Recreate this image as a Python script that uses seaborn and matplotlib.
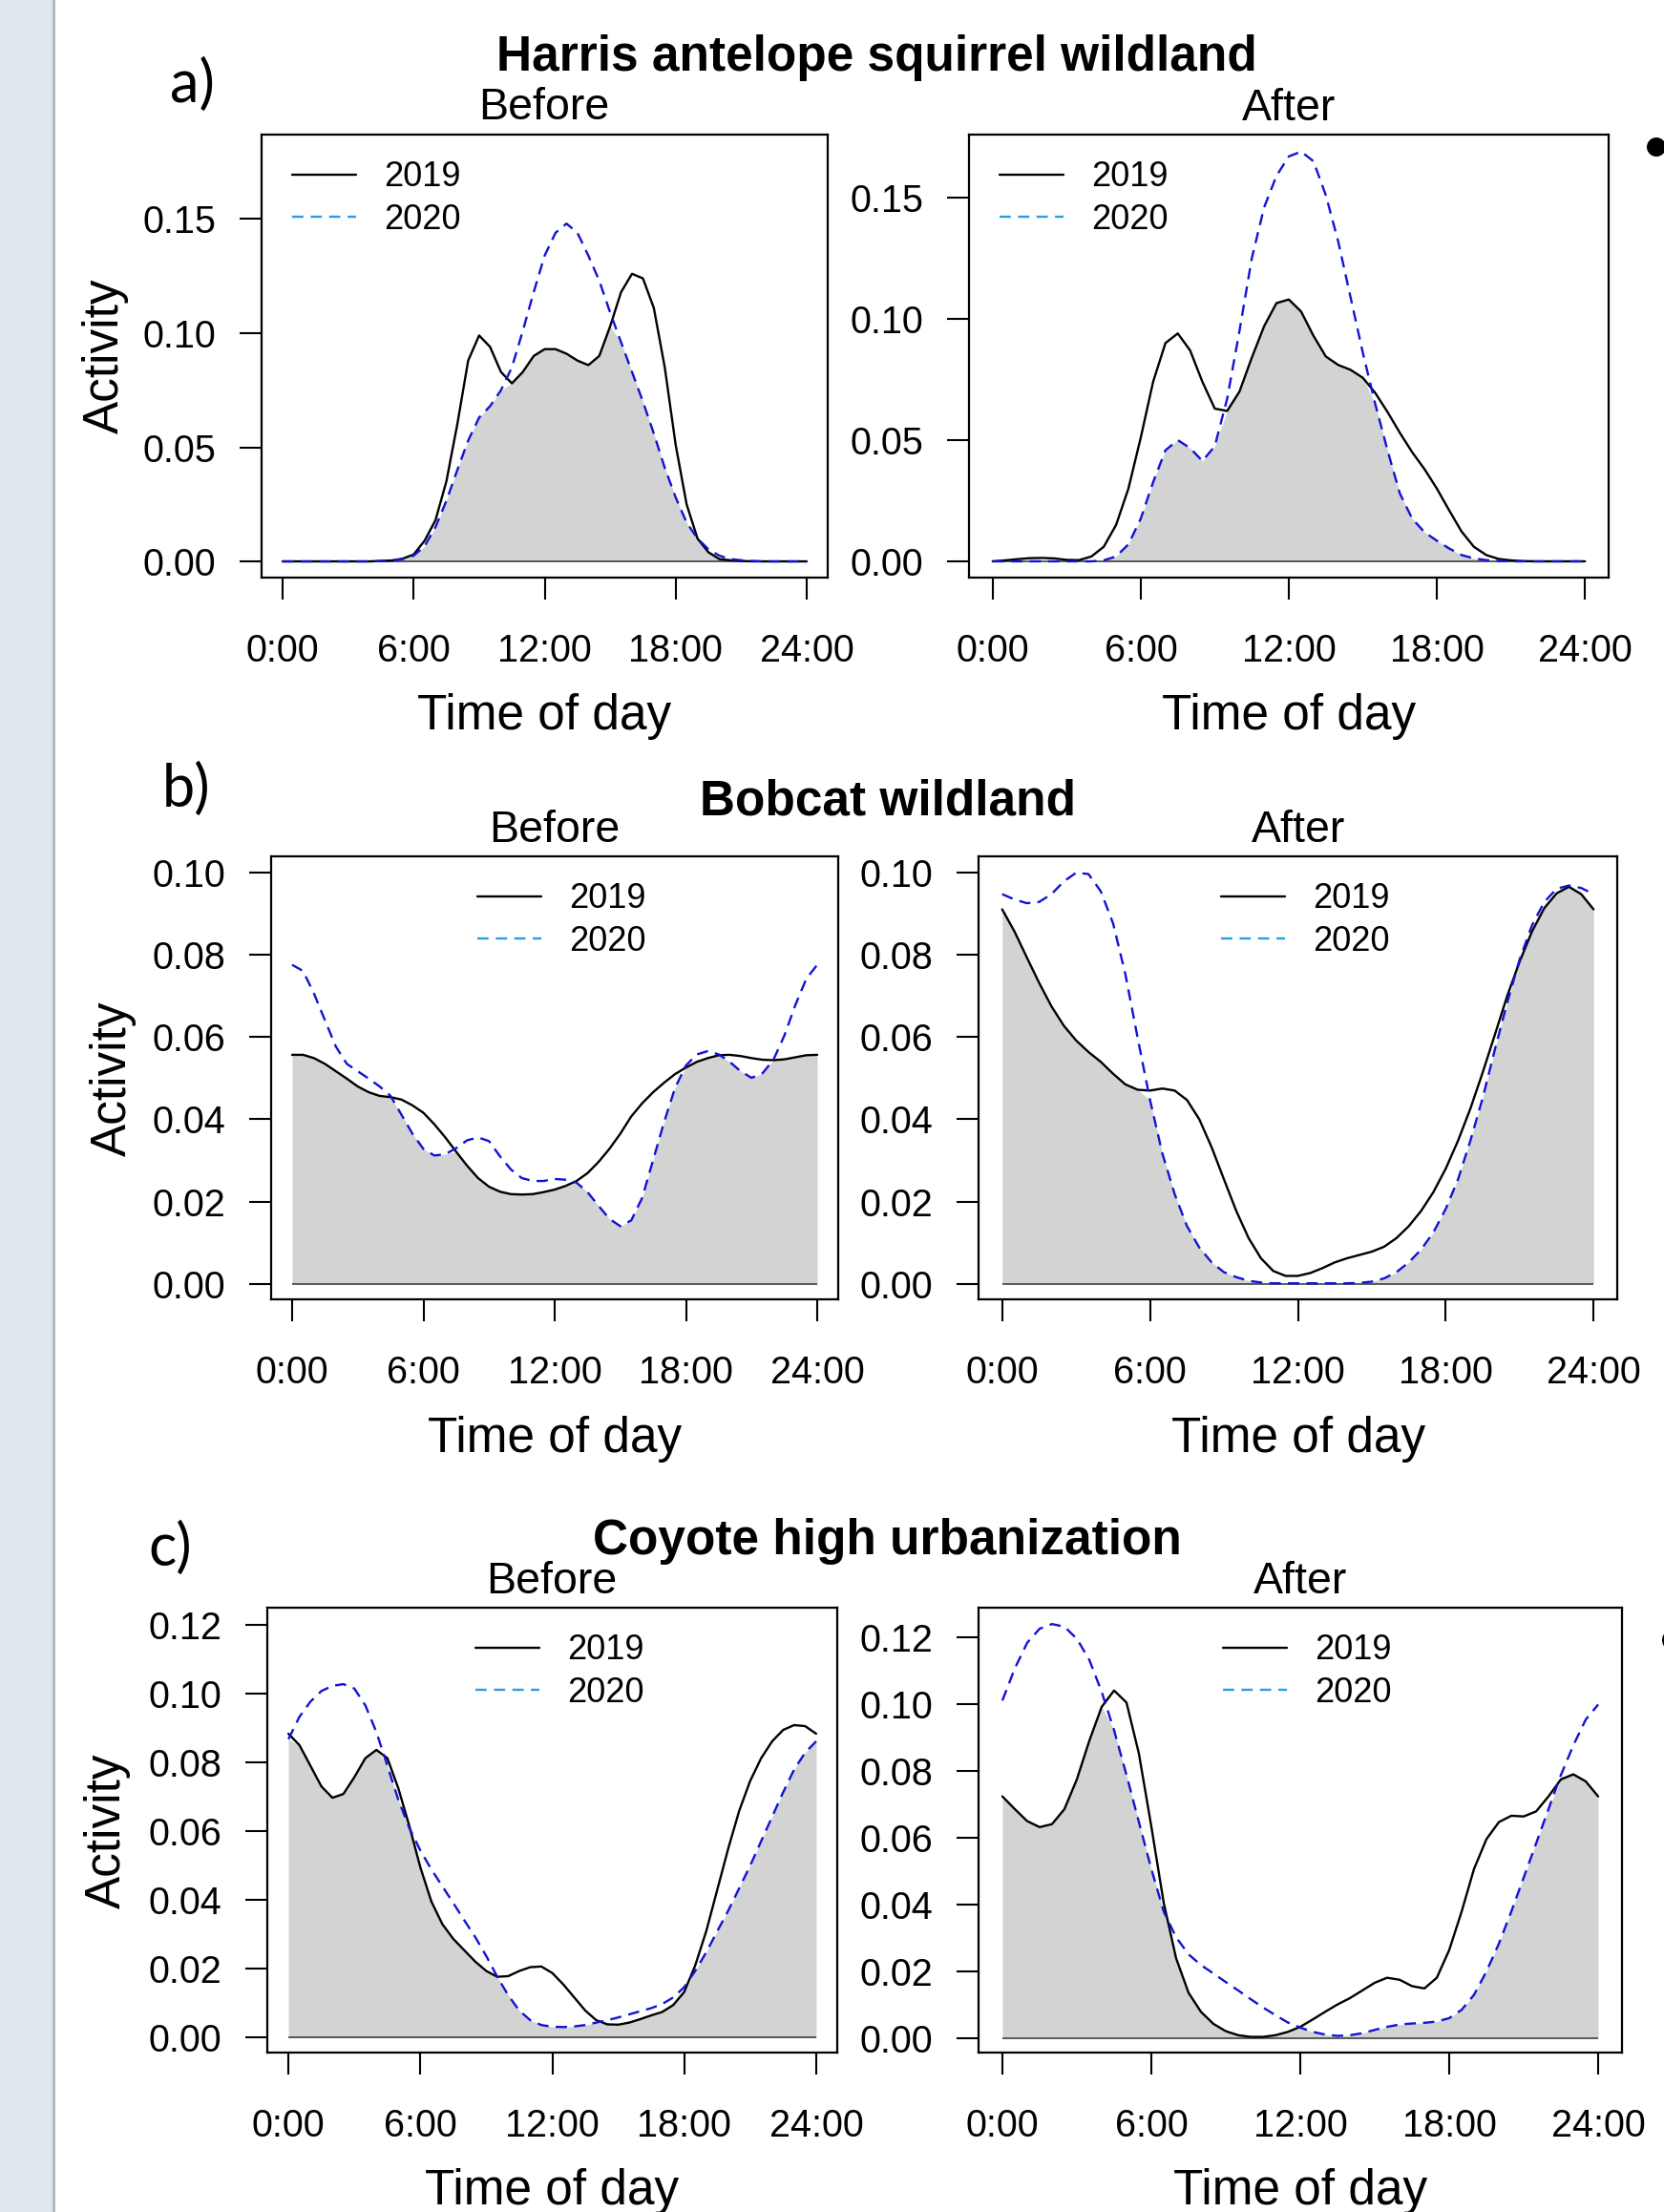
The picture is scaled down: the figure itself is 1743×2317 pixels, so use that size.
import numpy as np
import seaborn as sns
import matplotlib.pyplot as plt
from matplotlib.lines import Line2D
from matplotlib.patches import Rectangle, Ellipse

# time of day grid (hours), values every half hour
hours = np.arange(0, 24.5, 0.5)
tick_hours = [0, 6, 12, 18, 24]
tick_names = ['0:00', '6:00', '12:00', '18:00', '24:00']
years = ['2019', '2020']

# a) Harris antelope squirrel wildland
squirrel_before_2019 = [0, 0, 0, 0, 0, 0, 0, 0, 0, 0.0002, 0.0004, 0.0012, 0.003, 0.009, 0.018, 0.035,
                        0.060, 0.088, 0.099, 0.094, 0.083, 0.078, 0.083, 0.090, 0.093, 0.093, 0.091, 0.088,
                        0.086, 0.090, 0.103, 0.118, 0.126, 0.124, 0.111, 0.085, 0.051, 0.025, 0.010, 0.004,
                        0.001, 0.0005, 0.0002, 0, 0, 0, 0, 0, 0]
squirrel_before_2020 = [0, 0, 0, 0, 0, 0, 0, 0, 0, 0.0001, 0.0003, 0.001, 0.0025, 0.0066, 0.015, 0.0265,
                        0.040, 0.053, 0.063, 0.068, 0.075, 0.085, 0.101, 0.118, 0.134, 0.144, 0.148, 0.144,
                        0.134, 0.123, 0.109, 0.096, 0.083, 0.070, 0.056, 0.041, 0.028, 0.017, 0.010, 0.0053,
                        0.0025, 0.001, 0.0005, 0.0002, 0, 0, 0, 0, 0]
squirrel_after_2019 = [0, 0.0004, 0.0009, 0.0013, 0.0014, 0.0012, 0.0006, 0.0005, 0.002, 0.006, 0.015, 0.030,
                       0.051, 0.074, 0.090, 0.094, 0.087, 0.074, 0.063, 0.062, 0.070, 0.084, 0.097, 0.1065,
                       0.108, 0.103, 0.093, 0.0845, 0.081, 0.079, 0.0757, 0.0695, 0.0616, 0.053, 0.045, 0.038,
                       0.030, 0.021, 0.0123, 0.006, 0.0026, 0.001, 0.0004, 0.0001, 0, 0, 0, 0, 0]
squirrel_after_2020 = [0, 0, 0, 0, 0, 0, 0, 0, 0, 0.0004, 0.002, 0.007, 0.0176, 0.0326, 0.0458, 0.050,
                       0.0467, 0.0414, 0.0475, 0.067, 0.095, 0.125, 0.146, 0.159, 0.167, 0.169, 0.165, 0.151,
                       0.132, 0.109, 0.086, 0.065, 0.0458, 0.028, 0.0176, 0.012, 0.0085, 0.0053, 0.0026, 0.0012,
                       0.0005, 0.0002, 0, 0, 0, 0, 0, 0, 0]

# b) Bobcat wildland
bobcat_before_2019 = [0.0557, 0.0557, 0.0549, 0.0535, 0.0517, 0.0499, 0.048, 0.0466, 0.0457, 0.0454, 0.0448,
                      0.0434, 0.0416, 0.0388, 0.0356, 0.0321, 0.0287, 0.0257, 0.0236, 0.0224, 0.0218, 0.0217,
                      0.0218, 0.0223, 0.0229, 0.0238, 0.025, 0.0269, 0.0296, 0.0328, 0.0365, 0.0407, 0.0439,
                      0.0466, 0.0489, 0.051, 0.0526, 0.054, 0.0549, 0.0556, 0.0557, 0.0554, 0.0549, 0.0545,
                      0.0544, 0.0546, 0.0551, 0.0556, 0.0557]
bobcat_before_2020 = [0.0776, 0.0761, 0.0706, 0.0641, 0.0577, 0.0535, 0.0517, 0.0499, 0.048, 0.0457, 0.0411,
                      0.0365, 0.0328, 0.0312, 0.0315, 0.033, 0.0349, 0.0356, 0.0347, 0.031, 0.0278, 0.0257,
                      0.025, 0.025, 0.0255, 0.0253, 0.0246, 0.0223, 0.019, 0.0158, 0.014, 0.0154, 0.0209,
                      0.0301, 0.0393, 0.0476, 0.0531, 0.0558, 0.0566, 0.0558, 0.054, 0.0517, 0.0501, 0.0512,
                      0.0545, 0.0604, 0.0678, 0.0742, 0.0776]
bobcat_after_2019 = [0.0911, 0.0857, 0.0794, 0.0732, 0.0675, 0.0628, 0.0592, 0.0564, 0.054, 0.0511, 0.0485,
                     0.0472, 0.047, 0.0475, 0.047, 0.0447, 0.040, 0.0332, 0.0254, 0.0177, 0.0111, 0.0062,
                     0.0031, 0.0019, 0.0019, 0.0026, 0.0038, 0.0052, 0.0062, 0.007, 0.0078, 0.009, 0.0111,
                     0.014, 0.0177, 0.0223, 0.028, 0.0348, 0.0426, 0.0514, 0.0607, 0.0701, 0.0784, 0.0857,
                     0.0914, 0.095, 0.0966, 0.0948, 0.0911]
bobcat_after_2020 = [0.0948, 0.0935, 0.0926, 0.0929, 0.0948, 0.0979, 0.100, 0.0997, 0.0955, 0.0877, 0.0753,
                     0.0597, 0.0447, 0.0317, 0.0218, 0.014, 0.0088, 0.0052, 0.0028, 0.0016, 0.0007, 0.0003,
                     0.0001, 0.0001, 0.0001, 0.0001, 0.0001, 0.0001, 0.0001, 0.0002, 0.0005, 0.0013, 0.0028,
                     0.0052, 0.0083, 0.0125, 0.0182, 0.0254, 0.0348, 0.0452, 0.0571, 0.0685, 0.0789, 0.0872,
                     0.0929, 0.0961, 0.0969, 0.0963, 0.0948]

# c) Coyote high urbanization
coyote_before_2019 = [0.0883, 0.085, 0.079, 0.073, 0.0697, 0.0708, 0.0757, 0.0812, 0.0836, 0.0812, 0.0724,
                      0.0615, 0.0495, 0.0396, 0.033, 0.0287, 0.0254, 0.0221, 0.0194, 0.0177, 0.0179, 0.0194,
                      0.0205, 0.0207, 0.0188, 0.0155, 0.0117, 0.0079, 0.0051, 0.0039, 0.0038, 0.0044, 0.0054,
                      0.0065, 0.0075, 0.0095, 0.0133, 0.021, 0.0309, 0.0429, 0.0549, 0.0659, 0.0746, 0.0812,
                      0.0861, 0.0894, 0.0908, 0.0905, 0.0883]
coyote_before_2020 = [0.0867, 0.0932, 0.0976, 0.1007, 0.1022, 0.1027, 0.1014, 0.0965, 0.0888, 0.079, 0.0691,
                      0.0609, 0.0544, 0.0489, 0.044, 0.0391, 0.0341, 0.0292, 0.0237, 0.0177, 0.0123, 0.0079,
                      0.0051, 0.0037, 0.0032, 0.0031, 0.0033, 0.0037, 0.0044, 0.0051, 0.0059, 0.0068, 0.0077,
                      0.0086, 0.0098, 0.0117, 0.0147, 0.0194, 0.0248, 0.0309, 0.0369, 0.0434, 0.050, 0.0571,
                      0.0642, 0.0713, 0.0779, 0.0828, 0.0861]
coyote_after_2019 = [0.0723, 0.0685, 0.0649, 0.0631, 0.064, 0.0685, 0.0774, 0.0889, 0.0991, 0.104, 0.1004,
                     0.0851, 0.0633, 0.0404, 0.0238, 0.0135, 0.0078, 0.0042, 0.002, 0.0008, 0.0003, 0.0003,
                     0.0008, 0.0018, 0.0033, 0.0055, 0.0078, 0.010, 0.0119, 0.0142, 0.0165, 0.018, 0.0174,
                     0.0155, 0.0148, 0.018, 0.0263, 0.0378, 0.0506, 0.0595, 0.0646, 0.0665, 0.0663, 0.0678,
                     0.0723, 0.0774, 0.0789, 0.0768, 0.0723]
coyote_after_2020 = [0.101, 0.1106, 0.1183, 0.1225, 0.1239, 0.1231, 0.1195, 0.1132, 0.1036, 0.0921, 0.0787,
                     0.0646, 0.0506, 0.0378, 0.0301, 0.025, 0.0218, 0.0193, 0.0167, 0.0142, 0.0116, 0.0091,
                     0.0068, 0.0046, 0.0031, 0.0018, 0.001, 0.0006, 0.0008, 0.0014, 0.0024, 0.0033, 0.004,
                     0.0043, 0.0045, 0.0049, 0.0059, 0.0084, 0.0129, 0.0199, 0.0282, 0.0378, 0.048, 0.0582,
                     0.0685, 0.0787, 0.0876, 0.0953, 0.0998]

sns.set_theme(style='white', rc={'text.color': 'black', 'axes.labelcolor': 'black',
                                 'xtick.color': 'black', 'ytick.color': 'black'})
plt.rcParams['font.family'] = ['Liberation Sans', 'DejaVu Sans']

W, H = 1743, 2317
fig = plt.figure(figsize=(W / 100, H / 100), dpi=100)
fig.patch.set_facecolor('white')


def fx(px):
    return px / W


def fy(py):
    return 1 - py / H


DASH = (0, (5.0, 3.2))
BLUE = '#1212d6'
LEG_BLUE = '#2f9be3'
LW = 1.7


def draw_panel(box, ylim, yticks, y2019, y2020, leg_xy):
    left, top, right, bottom = box
    ax = fig.add_axes([fx(left), fy(bottom), (right - left) / W, (bottom - top) / H])
    low = np.minimum(y2019, y2020)
    ax.fill_between(hours, 0, low, color='#d3d3d3', lw=0, zorder=1)
    ax.hlines(0, hours[0], hours[-1], color='#333333', lw=1.1, zorder=2)
    sns.lineplot(x=hours, y=y2019, ax=ax, color='black', lw=LW, errorbar=None, zorder=3)
    sns.lineplot(x=hours, y=y2020, ax=ax, color=BLUE, lw=LW, linestyle=DASH, errorbar=None, zorder=4)
    ax.set_xlim(-0.96, 24.96)
    ax.set_ylim(*ylim)
    ax.set_xticks(tick_hours, tick_names)
    ax.set_yticks(yticks, [f'{v:.2f}' for v in yticks])
    ax.tick_params(direction='out', length=16.5, width=1.5, labelsize=28.5,
                   bottom=True, left=True, colors='black')
    ax.tick_params(axis='x', pad=25)
    ax.tick_params(axis='y', pad=18)
    for sp in ax.spines.values():
        sp.set_visible(True)
        sp.set_color('black')
        sp.set_linewidth(1.6)
    ax.set_xlabel('')
    ax.set_ylabel('')
    handles = [Line2D([], [], color='black', lw=LW),
               Line2D([], [], color=LEG_BLUE, lw=LW, linestyle=DASH)]
    ax.legend(handles, years, loc='center left', bbox_to_anchor=(fx(leg_xy[0]), fy(leg_xy[1] + 3)),
              bbox_transform=fig.transFigure, frameon=False, fontsize=26, handlelength=1.85,
              handletextpad=0.8, labelspacing=0.26, borderpad=0, borderaxespad=0)
    return ax


yt_a = [0.0, 0.05, 0.10, 0.15]
yt_b = [0.0, 0.02, 0.04, 0.06, 0.08, 0.10]
yt_c = [0.0, 0.02, 0.04, 0.06, 0.08, 0.10, 0.12]

draw_panel((274, 141, 867, 605), (-0.0071, 0.187), yt_a, squirrel_before_2019, squirrel_before_2020, (306, 205))
draw_panel((1015, 141, 1685, 605), (-0.0067, 0.176), yt_a, squirrel_after_2019, squirrel_after_2020, (1047, 205))
draw_panel((284, 897, 878, 1361), (-0.0038, 0.104), yt_b, bobcat_before_2019, bobcat_before_2020, (500, 961))
draw_panel((1025, 897, 1694, 1361), (-0.0038, 0.104), yt_b, bobcat_after_2019, bobcat_after_2020, (1279, 961))
draw_panel((280, 1684, 877, 2150), (-0.0043, 0.1249), yt_c, coyote_before_2019, coyote_before_2020, (498, 1748))
draw_panel((1025, 1684, 1699, 2150), (-0.0044, 0.1288), yt_c, coyote_after_2019, coyote_after_2020, (1281, 1748))

# titles
titles = [('Harris antelope squirrel wildland', 918, 74),
          ('Bobcat wildland', 930, 854),
          ('Coyote high urbanization', 929, 1628)]
for txt, x, y in titles:
    fig.text(fx(x), fy(y), txt, ha='center', va='baseline', fontsize=37, fontweight='bold')

subtitles = [('Before', 570, 125), ('After', 1350, 126),
             ('Before', 581, 882), ('After', 1360, 882),
             ('Before', 578, 1669), ('After', 1362, 1669)]
for txt, x, y in subtitles:
    fig.text(fx(x), fy(y), txt, ha='center', va='baseline', fontsize=33.5)

for x, y in [(570, 764), (1350, 764), (581, 1521), (1360, 1521), (578, 2309), (1362, 2309)]:
    fig.text(fx(x), fy(y), 'Time of day', ha='center', va='baseline', fontsize=37)

for x, y in [(110, 373), (118, 1130), (112, 1918)]:
    fig.text(fx(x), fy(y), 'Activity', rotation=90, ha='center', va='center', fontsize=37)

for txt, x, y in [('a)', 178, 107), ('b)', 170, 845), ('c)', 155, 1640)]:
    fig.text(fx(x), fy(y), txt, ha='left', va='baseline', fontsize=44, family=['Lato', 'DejaVu Sans'])

# slide decorations: left strip and bullets at the right edge
fig.add_artist(Rectangle((0, 0), fx(55), 1, transform=fig.transFigure,
                         facecolor='#dfe7ed', edgecolor='none', zorder=0))
fig.add_artist(Rectangle((fx(55), 0), fx(3.5), 1, transform=fig.transFigure,
                         facecolor='#aebcc6', edgecolor='none', zorder=0))
fig.add_artist(Ellipse((fx(1735), fy(154)), 20 / W, 20 / H, transform=fig.transFigure,
                       facecolor='black', edgecolor='none'))
fig.add_artist(Ellipse((fx(1752), fy(1718)), 22 / W, 22 / H, transform=fig.transFigure,
                       facecolor='black', edgecolor='none'))

fig.savefig('out.png', dpi=100, facecolor='white')
